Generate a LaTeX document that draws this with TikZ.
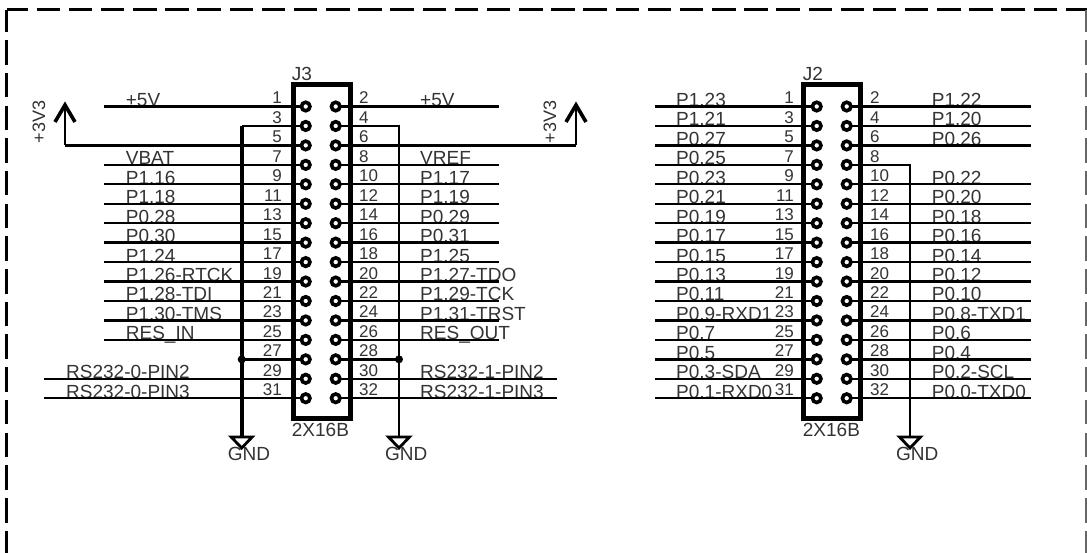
\documentclass[tikz,border=0pt]{standalone}
\usepackage{fontspec}
\setmainfont{Liberation Sans}
\usetikzlibrary{calc}

\tikzset{
	wire/.style={line width=2.4pt},
	hole/.style={circle, draw, line width=3.6pt, minimum size=8.5pt, inner sep=0pt, outer sep=0pt, fill=white},
	body/.style={line width=5pt, line join=miter},
	signal/.style={inner sep=0pt, text=black!80, font=\fontsize{19}{19}\selectfont},
	pinnum/.style={inner sep=0pt, text=black!80, font=\fontsize{17}{17}\selectfont},
	gnd/.pic={\draw[line width=2.8pt, fill=white] (-10.5,0) -- (10.5,0) -- (0,11) -- cycle;},
	vcc/.pic={\draw[line width=3.6pt] (-10,17) -- (0,0) -- (10,17);}
}

\begin{document}
\begin{tikzpicture}[x=1pt, y=-1pt]
	\useasboundingbox (0,0) rectangle (1087,553);

	% frame
	\coordinate (TL) at (6.5,10);
	\coordinate (TR) at (1086.5,10);
	\coordinate (BL) at (6.5,553);
	\coordinate (BR) at (1086.5,553);
	\draw[line width=3pt, dash pattern=on 23.5pt off 8.66pt, dash phase=2pt] (TL) -- (TR);
	\draw[line width=3pt, dash pattern=on 24.5pt off 8.2pt, dash phase=2.5pt] (TL) -- (BL);
	\draw[line width=3pt, black!60, dash pattern=on 24.5pt off 8.2pt, dash phase=2.5pt] (TR) -- (BR);

	% holes and pin numbers
	\foreach \n in {1,3,...,31} {
		\pgfmathsetmacro{\yy}{106.5+19.45*(\n-1)/2}
		\node[hole] (J3h\n) at (305.7,\yy) {};
		\node[pinnum, anchor=base east] (J3n\n) at (282,\yy-2.5) {\n};
		\node[hole] (J2h\n) at (816.7,\yy) {};
		\node[pinnum, anchor=base east] (J2n\n) at (794,\yy-2.5) {\n};
	}
	\foreach \n in {2,4,...,32} {
		\pgfmathsetmacro{\yy}{106.5+19.45*(\n-2)/2}
		\node[hole] (J3h\n) at (335.7,\yy) {};
		\node[pinnum, anchor=base west] (J3n\n) at (359,\yy-2.5) {\n};
		\node[hole] (J2h\n) at (846.7,\yy) {};
		\node[pinnum, anchor=base west] (J2n\n) at (870,\yy-2.5) {\n};
	}

	% J3 left signals
	\foreach \n/\sig in {1/+5V, 7/VBAT, 9/P1.16, 11/P1.18, 13/P0.28, 15/P0.30, 17/P1.24,
		19/P1.26-RTCK, 21/P1.28-TDI, 23/P1.30-TMS, 25/RES\_IN} {
		\coordinate (J3e\n) at (104,0 |- J3h\n);
		\node[signal, anchor=base west] (J3s\n) at (125.7,0 |- J3h\n) {\sig};
		\draw[wire] (J3h\n) -- (J3e\n);
	}
	\foreach \n/\sig in {29/RS232-0-PIN2, 31/RS232-0-PIN3} {
		\coordinate (J3e\n) at (44,0 |- J3h\n);
		\node[signal, anchor=base west] (J3s\n) at (66,0 |- J3h\n) {\sig};
		\draw[wire] (J3h\n) -- (J3e\n);
	}

	% J3 right signals
	\foreach \n/\sig in {2/+5V, 8/VREF, 10/P1.17, 12/P1.19, 14/P0.29, 16/P0.31, 18/P1.25,
		20/P1.27-TDO, 22/P1.29-TCK, 24/P1.31-TRST, 26/RES\_OUT} {
		\coordinate (J3e\n) at (499,0 |- J3h\n);
		\node[signal, anchor=base west] (J3s\n) at (420,0 |- J3h\n) {\sig};
		\draw[wire] (J3h\n) -- (J3e\n);
	}
	\foreach \n/\sig in {30/RS232-1-PIN2, 32/RS232-1-PIN3} {
		\coordinate (J3e\n) at (557,0 |- J3h\n);
		\node[signal, anchor=base west] (J3s\n) at (420,0 |- J3h\n) {\sig};
		\draw[wire] (J3h\n) -- (J3e\n);
	}

	% J2 signals
	\foreach \n/\sig in {1/P1.23, 3/P1.21, 5/P0.27, 7/P0.25, 9/P0.23, 11/P0.21, 13/P0.19, 15/P0.17,
		17/P0.15, 19/P0.13, 21/P0.11, 23/P0.9-RXD1, 25/P0.7, 27/P0.5, 29/P0.3-SDA, 31/P0.1-RXD0} {
		\coordinate (J2e\n) at (655,0 |- J2h\n);
		\node[signal, anchor=base west] (J2s\n) at (676,0 |- J2h\n) {\sig};
		\draw[wire] (J2h\n) -- (J2e\n);
	}
	\foreach \n/\sig in {2/P1.22, 4/P1.20, 6/P0.26, 10/P0.22, 12/P0.20, 14/P0.18, 16/P0.16, 18/P0.14,
		20/P0.12, 22/P0.10, 24/P0.8-TXD1, 26/P0.6, 28/P0.4, 30/P0.2-SCL, 32/P0.0-TXD0} {
		\coordinate (J2e\n) at (1031,0 |- J2h\n);
		\node[signal, anchor=base west] (J2s\n) at (931.7,0 |- J2h\n) {\sig};
		\draw[wire] (J2h\n) -- (J2e\n);
	}

	% connector bodies
	\draw[body] (293,418) -- (293,85) -- (350,85) -- (350,418) -- cycle;
	\draw[body] (803,418) -- (803,85) -- (860,85) -- (860,418) -- cycle;
	\node[signal, anchor=base west] (J3) at (291.7,81) {J3};
	\node[signal, anchor=base west] (J2) at (802.7,81) {J2};
	\node[signal, anchor=base west] (J3v) at (291.7,436.7) {2X16B};
	\node[signal, anchor=base west] (J2v) at (802.7,436.7) {2X16B};

	% ground rails
	\coordinate (G1) at (241.7,437);
	\coordinate (G2) at (399,437);
	\coordinate (G3) at (910,437);
	\coordinate (R3) at (G1 |- J3h3);
	\coordinate (R4) at (G2 |- J3h4);
	\coordinate (R8) at (G3 |- J2h8);
	\coordinate (D27) at (G1 |- J3h27);
	\coordinate (D28) at (G2 |- J3h28);
	\draw[wire] (J3h3) -- (R3);
	\draw[line width=3.6pt] (R3) -- (G1);
	\draw[wire] (J3h4) -- (R4) -- (G2);
	\draw[wire] (J2h8) -- (R8) -- (G3);
	\draw[wire] (J3h27) -- (D27);
	\draw[wire] (J3h28) -- (D28);
	\fill (D27) circle (4);
	\fill (D28) circle (4);
	\pic at (G1) {gnd};
	\pic at (G2) {gnd};
	\pic at (G3) {gnd};
	\node[signal, anchor=base west] (GND1) at (227.7,460.7) {GND};
	\node[signal, anchor=base west] (GND2) at (385,460.7) {GND};
	\node[signal, anchor=base west] (GND3) at (896,460.7) {GND};

	% supply
	\coordinate (V1) at (65,105);
	\coordinate (V2) at (576,105);
	\coordinate (C5) at (V1 |- J3h5);
	\coordinate (C6) at (V2 |- J3h6);
	\node[signal, rotate=90, font=\fontsize{18}{18}\selectfont] (V1t) at (39,122) {+3V3};
	\node[signal, rotate=90, font=\fontsize{18}{18}\selectfont] (V2t) at (550,122) {+3V3};
	\draw[wire] (J3h5) -- (C5);
	\draw[wire] (J3h6) -- (C6);
	\draw[line width=2.8pt] (C5) -- (V1);
	\draw[line width=2.8pt] (C6) -- (V2);
	\pic at (V1) {vcc};
	\pic at (V2) {vcc};
\end{tikzpicture}
\end{document}
